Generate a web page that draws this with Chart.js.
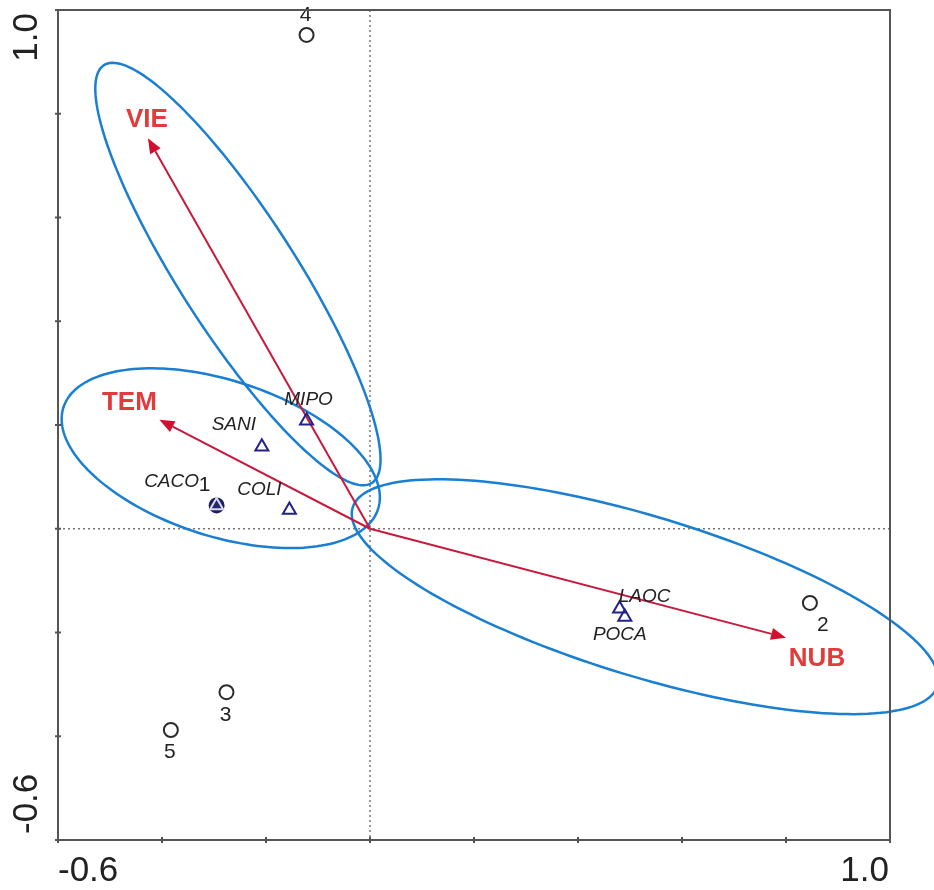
<!DOCTYPE html>
<html>
<head>
<meta charset="utf-8">
<title>CCA biplot</title>
<script src="https://cdn.jsdelivr.net/npm/chart.js@4.4.1/dist/chart.umd.min.js"></script>
<style>
  html, body { margin: 0; padding: 0; background: #fff; }
  #plot { display: block; }
</style>
</head>
<body>
<canvas id="plot" width="934" height="890"></canvas>
<script>
// sites (samples)
const siteNames = ['1', '2', '3', '4', '5'];
const siteX = [-0.295, 0.846, -0.276, -0.122, -0.383];
const siteY = [0.045, -0.143, -0.315, 0.952, -0.388];

// species
const speciesNames = ['MIPO', 'SANI', 'COLI', 'CACO', 'LAOC', 'POCA'];
const speciesX = [-0.122, -0.208, -0.155, -0.295, 0.480, 0.490];
const speciesY = [0.208, 0.158, 0.036, 0.045, -0.154, -0.170];

// environmental variables (arrow tips)
const envNames = ['VIE', 'TEM', 'NUB'];
const envX = [-0.427, -0.405, 0.800];
const envY = [0.753, 0.210, -0.210];

// group ellipses: centre, semi-axes and rotation (degrees) in axis units
const ellipseCX = [-0.254, -0.287, 0.529];
const ellipseCY = [0.491, 0.136, -0.131];
const ellipseA = [0.478, 0.318, 0.588];
const ellipseB = [0.112, 0.150, 0.154];
const ellipseRot = [-57.4, -18, -17];

// axis ticks
const tickValues = [-0.6, -0.4, -0.2, 0, 0.2, 0.4, 0.6, 0.8, 1.0];
const tickLabels = ['-0.6', '1.0'];

const FONT = "'Liberation Sans', Arial, sans-serif";

// label offsets in px from their mark
const siteOffsets = { '1': [-12, -20], '2': [13, 22], '3': [-1, 23], '4': [-1, -20], '5': [-1, 22] };
const speciesOffsets = {
  MIPO: [2, -21], SANI: [-28, -22], COLI: [-30, -20],
  CACO: [-45, -24], LAOC: [25, -12], POCA: [-5, 18]
};
const envOffsets = { VIE: [-1, -18], TEM: [-30, -17], NUB: [31, 21] };

function drawArrow(ctx, x0, y0, x1, y1) {
  const ang = Math.atan2(y1 - y0, x1 - x0);
  const len = 15, half = 6;
  const bx = x1 - len * Math.cos(ang), by = y1 - len * Math.sin(ang);
  ctx.beginPath();
  ctx.moveTo(x0, y0);
  ctx.lineTo(bx, by);
  ctx.stroke();
  ctx.beginPath();
  ctx.moveTo(x1, y1);
  ctx.lineTo(bx + half * Math.sin(ang), by - half * Math.cos(ang));
  ctx.lineTo(bx - half * Math.sin(ang), by + half * Math.cos(ang));
  ctx.closePath();
  ctx.fill();
}

const biplotLayers = {
  id: 'biplotLayers',
  beforeDatasetsDraw(chart) {
    const { ctx, chartArea: a, scales: { x, y } } = chart;
    const x0 = x.getPixelForValue(0), y0 = y.getPixelForValue(0);
    ctx.save();

    // dotted zero lines
    ctx.strokeStyle = '#777';
    ctx.lineWidth = 1.5;
    ctx.setLineDash([2, 3]);
    ctx.beginPath();
    ctx.moveTo(x0, a.top); ctx.lineTo(x0, a.bottom);
    ctx.moveTo(a.left, y0); ctx.lineTo(a.right, y0);
    ctx.stroke();
    ctx.setLineDash([]);

    // group ellipses
    ctx.strokeStyle = '#1a7fd0';
    ctx.lineWidth = 2.5;
    for (let i = 0; i < ellipseCX.length; i++) {
      const t = ellipseRot[i] * Math.PI / 180;
      ctx.beginPath();
      for (let k = 0; k <= 180; k++) {
        const p = 2 * Math.PI * k / 180;
        const dx = ellipseA[i] * Math.cos(p), dy = ellipseB[i] * Math.sin(p);
        const px = x.getPixelForValue(ellipseCX[i] + dx * Math.cos(t) - dy * Math.sin(t));
        const py = y.getPixelForValue(ellipseCY[i] + dx * Math.sin(t) + dy * Math.cos(t));
        if (k === 0) ctx.moveTo(px, py); else ctx.lineTo(px, py);
      }
      ctx.stroke();
    }

    // environmental arrows
    ctx.strokeStyle = '#c8193c';
    ctx.fillStyle = '#d0102e';
    ctx.lineWidth = 2;
    envNames.forEach((n, i) => {
      drawArrow(ctx, x0, y0, x.getPixelForValue(envX[i]), y.getPixelForValue(envY[i]));
    });
    ctx.restore();
  },
  afterDatasetsDraw(chart) {
    const { ctx, chartArea: a, scales: { x, y } } = chart;
    ctx.save();
    ctx.textAlign = 'center';
    ctx.textBaseline = 'middle';

    // species names
    ctx.fillStyle = '#222';
    ctx.font = 'italic 19px ' + FONT;
    speciesNames.forEach((n, i) => {
      const o = speciesOffsets[n];
      ctx.fillText(n, x.getPixelForValue(speciesX[i]) + o[0], y.getPixelForValue(speciesY[i]) + o[1]);
    });

    // site numbers
    ctx.font = '21px ' + FONT;
    siteNames.forEach((n, i) => {
      const o = siteOffsets[n];
      ctx.fillText(n, x.getPixelForValue(siteX[i]) + o[0], y.getPixelForValue(siteY[i]) + o[1]);
    });

    // variable names
    ctx.fillStyle = '#e03c3c';
    ctx.font = 'bold 26px ' + FONT;
    envNames.forEach((n, i) => {
      const o = envOffsets[n];
      ctx.fillText(n, x.getPixelForValue(envX[i]) + o[0], y.getPixelForValue(envY[i]) + o[1]);
    });

    // frame and tick marks
    ctx.strokeStyle = '#555';
    ctx.lineWidth = 2;
    ctx.strokeRect(a.left, a.top, a.right - a.left, a.bottom - a.top);
    ctx.beginPath();
    tickValues.forEach(v => {
      const py = y.getPixelForValue(v), px = x.getPixelForValue(v);
      ctx.moveTo(a.left - 3, py); ctx.lineTo(a.left + 3, py);
      ctx.moveTo(px, a.bottom - 3); ctx.lineTo(px, a.bottom + 3);
    });
    ctx.stroke();

    // tick labels, only the axis ends
    ctx.fillStyle = '#222';
    ctx.font = '35px ' + FONT;
    ctx.textBaseline = 'middle';
    ctx.textAlign = 'left';
    ctx.fillText(tickLabels[0], x.getPixelForValue(-0.6), a.bottom + 31);
    ctx.textAlign = 'right';
    ctx.fillText(tickLabels[1], x.getPixelForValue(1.0) - 1, a.bottom + 31);

    ctx.translate(27, 0);
    ctx.rotate(-Math.PI / 2);
    ctx.textAlign = 'left';
    ctx.fillText(tickLabels[0], -(y.getPixelForValue(-0.6) - 6), 0);
    ctx.textAlign = 'right';
    ctx.fillText(tickLabels[1], -(y.getPixelForValue(1.0) + 3), 0);
    ctx.restore();
  }
};

new Chart(document.getElementById('plot'), {
  type: 'scatter',
  data: {
    datasets: [
      {
        label: 'Species',
        data: speciesX.map((v, i) => ({ x: v, y: speciesY[i] })),
        pointStyle: 'triangle',
        pointRadius: 7.5,
        borderWidth: 2,
        borderColor: ctx => speciesNames[ctx.dataIndex] === 'CACO' ? '#d8d8f0' : '#22228a',
        backgroundColor: 'rgba(0,0,0,0)'
      },
      {
        label: 'Sites',
        data: siteX.map((v, i) => ({ x: v, y: siteY[i] })),
        pointStyle: 'circle',
        pointRadius: 7,
        borderWidth: 2,
        borderColor: ctx => siteNames[ctx.dataIndex] === '1' ? '#1c1c5e' : '#2a2a2a',
        backgroundColor: ctx => siteNames[ctx.dataIndex] === '1' ? '#26266e' : 'rgba(255,255,255,0)'
      }
    ]
  },
  options: {
    responsive: false,
    animation: false,
    layout: { padding: { left: 58, right: 44, top: 10, bottom: 50 } },
    plugins: { legend: { display: false }, tooltip: { enabled: false } },
    scales: {
      x: { type: 'linear', min: -0.6, max: 1.0, display: false },
      y: { type: 'linear', min: -0.6, max: 1.0, display: false }
    }
  },
  plugins: [biplotLayers]
});
</script>
</body>
</html>
